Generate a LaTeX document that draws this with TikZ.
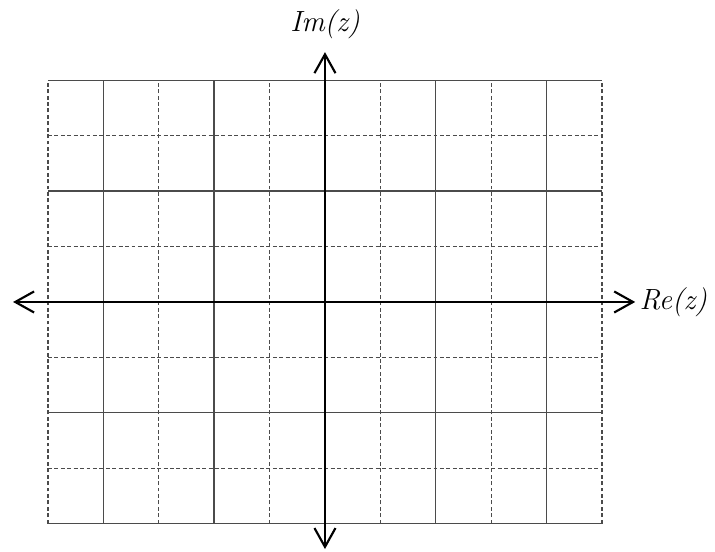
\documentclass[tikz,border=0pt]{standalone}
\usepackage{tikz}
\usetikzlibrary{arrows.meta,positioning}
\definecolor{gridgray}{RGB}{75,75,75}

\begin{document}
\begin{tikzpicture}[x=1cm, y=1cm,
	gridsolid/.style={draw=gridgray, line width=0.7pt},
	griddash/.style={draw=gridgray, line width=0.7pt, dash pattern=on 2pt off 1.3pt},
	axisline/.style={line width=1.1pt, {Straight Barb[length=3.4mm, width=3.8mm, line width=1.1pt]}-{Straight Barb[length=3.4mm, width=3.8mm, line width=1.1pt]}},
	axislabel/.style={font=\fontsize{15}{17}\selectfont\itshape, inner sep=1pt}]
	\useasboundingbox (-5.866,-4.495) rectangle (7.040,5.451);

	% dashed lines first, solid on top
	\foreach \x in {-5,-3,-1,1,3,5} \draw[griddash] (\x,-4) -- (\x,4);
	\foreach \y in {-3,-1,1,3} \draw[griddash] (-5,\y) -- (5,\y);
	\foreach \x in {-4,-2,2,4} \draw[gridsolid] (\x,-4) -- (\x,4);
	\foreach \y in {-4,-2,2,4} \draw[gridsolid] (-5,\y) -- (5,\y);

	\coordinate (west) at (-5.63,0);
	\coordinate (east) at (5.60,0);
	\coordinate (north) at (0,4.51);
	\coordinate (south) at (0,-4.46);

	\draw[axisline] (west) -- (east);
	\draw[axisline] (south) -- (north);

	\node[axislabel, right=1pt of east] (re) {Re(z)};
	\node[axislabel, above=2mm of north] (im) {Im(z)};
\end{tikzpicture}
\end{document}
